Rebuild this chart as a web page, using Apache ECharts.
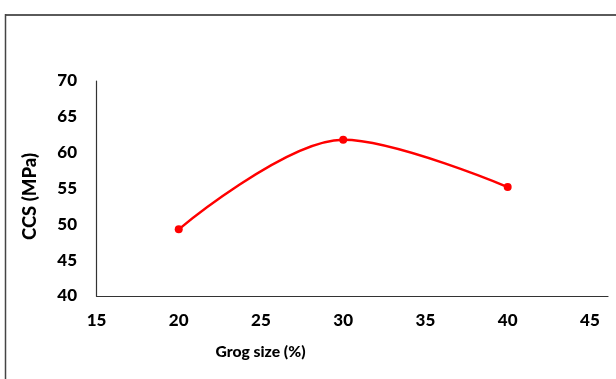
<!DOCTYPE html>
<html><head><meta charset="utf-8">
<script src="https://cdn.jsdelivr.net/npm/echarts@6/dist/echarts.min.js"></script>
<style>html,body{margin:0;padding:0;background:#fff}#c{width:616px;height:379px}</style>
</head><body><div id="c"></div>
<script>
const grogSize = [20, 30, 40];
const ccsValues = [49.3, 61.8, 55.2];
const xTicks = [15, 20, 25, 30, 35, 40, 45];
const yTicks = [40, 45, 50, 55, 60, 65, 70];
const xTitle = 'Grog size (%)';
const yTitle = 'CCS (MPa)';
const FONT = 'Lato';
const W = 900;

const chart = echarts.init(document.getElementById('c'), null, {renderer: 'canvas'});
chart.setOption({
  animation: false,
  backgroundColor: '#fff',
  grid: {left: 96.5, right: 8, top: 81, bottom: 83, containLabel: false},
  xAxis: {
    type: 'value', min: xTicks[0], max: 46.1, interval: 5,
    axisLine: {show: true, lineStyle: {color: '#333', width: 1.2}},
    axisTick: {show: false}, splitLine: {show: false},
    axisLabel: {margin: 16, color: '#000', fontFamily: FONT, fontWeight: W, fontSize: 17,
      formatter: v => xTicks.includes(v) ? String(v) : ''}
  },
  yAxis: {
    type: 'value', min: yTicks[0], max: yTicks[yTicks.length-1], interval: 5,
    axisLine: {show: true, lineStyle: {color: '#333', width: 1.2}},
    axisTick: {show: false}, splitLine: {show: false},
    axisLabel: {margin: 19.5, color: '#000', fontFamily: FONT, fontWeight: W, fontSize: 17}
  },
  graphic: [
    {type: 'line', shape: {x1: 5, y1: 15, x2: 616, y2: 15}, style: {stroke: '#5a5a5a', lineWidth: 2}},
    {type: 'line', shape: {x1: 5.5, y1: 14, x2: 5.5, y2: 379}, style: {stroke: '#444', lineWidth: 1.5}},
    {type: 'text', x: 260.5, y: 351.5, style: {text: xTitle, x: 0, y: 0, align: 'center', verticalAlign: 'middle',
      font: W + ' 15.7px ' + FONT, fill: '#000'}},
    {type: 'text', rotation: Math.PI/2, x: 30.5, y: 196.5, style: {text: yTitle, x: 0, y: 0, align: 'center', verticalAlign: 'middle',
      font: W + ' 18.5px ' + FONT, fill: '#000'}}
  ],
  series: [{
    type: 'line', smooth: 0.33,
    data: grogSize.map((x, i) => [x, ccsValues[i]]),
    symbol: 'circle', symbolSize: 8,
    lineStyle: {color: '#ff0000', width: 2.5},
    itemStyle: {color: '#ff0000'}
  }]
});
</script></body></html>
